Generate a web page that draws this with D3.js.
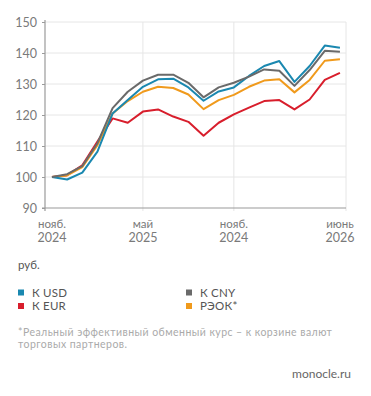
<!DOCTYPE html>
<html>
<head>
<meta charset="utf-8">
<script src="https://cdn.jsdelivr.net/npm/d3@7"></script>
<style>
  body { margin: 0; background: #fff; }
  text { font-family: Lato, "Open Sans", sans-serif; }
</style>
</head>
<body>
<div id="chart"></div>
<script>
// monthly index, Nov 2024 = 100
var months = d3.range(20);
var usd = [100, 99.2, 101.4, 108.2, 120.5, 124.8, 129.1, 131.5, 131.7, 128.9, 124.6, 127.6, 128.9, 132.6, 135.8, 137.4, 130.7, 135.8, 142.4, 141.7];
var eur = [100, 100.6, 103.8, 111.4, 118.9, 117.5, 121.1, 121.8, 119.5, 117.8, 113.3, 117.5, 120.2, 122.4, 124.5, 124.8, 121.8, 125.0, 131.3, 133.6];
var cny = [100, 100.9, 103.5, 110.9, 122.2, 127.5, 131.1, 133.0, 133.0, 130.4, 125.7, 128.9, 130.4, 132.4, 134.7, 134.3, 129.4, 134.5, 140.7, 140.4];
var reer = [100, 100.5, 103.2, 110.3, 120.5, 124.5, 127.5, 129.1, 128.7, 126.6, 121.9, 124.8, 126.5, 129.1, 131.1, 131.5, 127.3, 131.3, 137.5, 138.0];

var xTicks = [0, 6, 12, 19];
var xTickLabels = [["нояб.", "2024"], ["май", "2025"], ["нояб.", "2024"], ["июнь", "2026"]];
var yTicks = [90, 100, 110, 120, 130, 140, 150];

var seriesNames = ["К USD", "К EUR", "К CNY", "РЭОК*"];
var seriesData = [usd, eur, cny, reer];
var colors = ["#1a88b0", "#d81e2c", "#6a6a6a", "#f09a1c"];

var width = 371, height = 396;
var svg = d3.select("#chart").append("svg")
  .attr("width", width)
  .attr("height", height);

var x = d3.scaleLinear().domain([-0.46, 19.4]).range([45, 346]);
var y = d3.scaleLinear().domain([90, 150]).range([208, 22]);

// horizontal grid
svg.append("g").selectAll("line")
  .data(yTicks.slice(1))
  .enter().append("line")
  .attr("x1", 45).attr("x2", 346)
  .attr("y1", function(d) { return y(d); })
  .attr("y2", function(d) { return y(d); })
  .attr("stroke", "#e6e6e6")
  .attr("stroke-width", 1);

// vertical grid
svg.append("g").selectAll("line")
  .data([6, 12])
  .enter().append("line")
  .attr("x1", function(d) { return x(d); })
  .attr("x2", function(d) { return x(d); })
  .attr("y1", 22).attr("y2", 211)
  .attr("stroke", "#e6e6e6");
svg.append("line")
  .attr("x1", 346).attr("x2", 346).attr("y1", 22).attr("y2", 211)
  .attr("stroke", "#e6e6e6");

// axes lines
svg.append("line")
  .attr("x1", 45).attr("x2", 45).attr("y1", 20).attr("y2", 211)
  .attr("stroke", "#9a9a9a").attr("stroke-width", 1.2);
svg.append("line")
  .attr("x1", 42).attr("x2", 346).attr("y1", y(90)).attr("y2", y(90))
  .attr("stroke", "#9a9a9a").attr("stroke-width", 1.2);

// y tick marks and labels
var yAxis = d3.axisLeft(y).tickValues(yTicks).tickSize(3).tickSizeOuter(0);
var gy = svg.append("g").attr("transform", "translate(45,0)").call(yAxis);
gy.select(".domain").remove();
gy.selectAll("line").attr("stroke", "#9a9a9a");
gy.selectAll("text")
  .attr("x", -8)
  .attr("fill", "#7a7a7a")
  .style("font-size", "12.5px")
  .style("font-family", "Lato, sans-serif");

// x labels
var xl = svg.append("g").selectAll("text")
  .data(xTicks)
  .enter().append("text")
  .attr("x", function(d) { return x(d); })
  .attr("text-anchor", "middle")
  .attr("fill", "#7a7a7a")
  .style("font-size", "11.5px");
xl.append("tspan")
  .attr("x", function(d) { return x(d); })
  .attr("y", 228)
  .text(function(d, i) { return xTickLabels[i][0]; });
xl.append("tspan")
  .attr("x", function(d) { return x(d); })
  .attr("y", 242)
  .style("font-size", "12.5px")
  .text(function(d, i) { return xTickLabels[i][1]; });

// lines (draw in order: EUR, REER, USD, CNY)
var line = d3.line()
  .x(function(d, i) { return x(months[i]); })
  .y(function(d) { return y(d); });

[1, 3, 0, 2].forEach(function(k) {
  svg.append("path")
    .datum(seriesData[k])
    .attr("d", line)
    .attr("fill", "none")
    .attr("stroke", colors[k])
    .attr("stroke-width", 2)
    .attr("stroke-linejoin", "round");
});

// unit
svg.append("text")
  .attr("x", 18).attr("y", 269)
  .attr("fill", "#555")
  .style("font-size", "11.5px")
  .text("руб.");

// legend
var legendPos = [[18, 292.5], [18, 306], [186, 292.5], [186, 306]];
seriesNames.forEach(function(name, i) {
  var p = legendPos[i];
  svg.append("rect")
    .attr("x", p[0]).attr("y", p[1] - 3)
    .attr("width", 6).attr("height", 6)
    .attr("fill", colors[i]);
  svg.append("text")
    .attr("x", p[0] + 14).attr("y", p[1] + 4)
    .attr("fill", "#555")
    .style("font-size", "11.5px")
    .style("letter-spacing", "0.2px")
    .text(name);
});

// footnote
svg.append("text")
  .attr("x", 18).attr("y", 336)
  .attr("fill", "#aaaaaa")
  .style("font-size", "10.5px")
  .style("letter-spacing", "0.45px")
  .text("*Реальный эффективный обменный курс – к корзине валют");
svg.append("text")
  .attr("x", 18).attr("y", 348)
  .attr("fill", "#aaaaaa")
  .style("font-size", "10.5px")
  .style("letter-spacing", "0.45px")
  .text("торговых партнеров.");

svg.append("text")
  .attr("x", 351).attr("y", 378)
  .attr("text-anchor", "end")
  .attr("fill", "#666")
  .style("font-size", "12px")
  .text("monocle.ru");
</script>
</body>
</html>
